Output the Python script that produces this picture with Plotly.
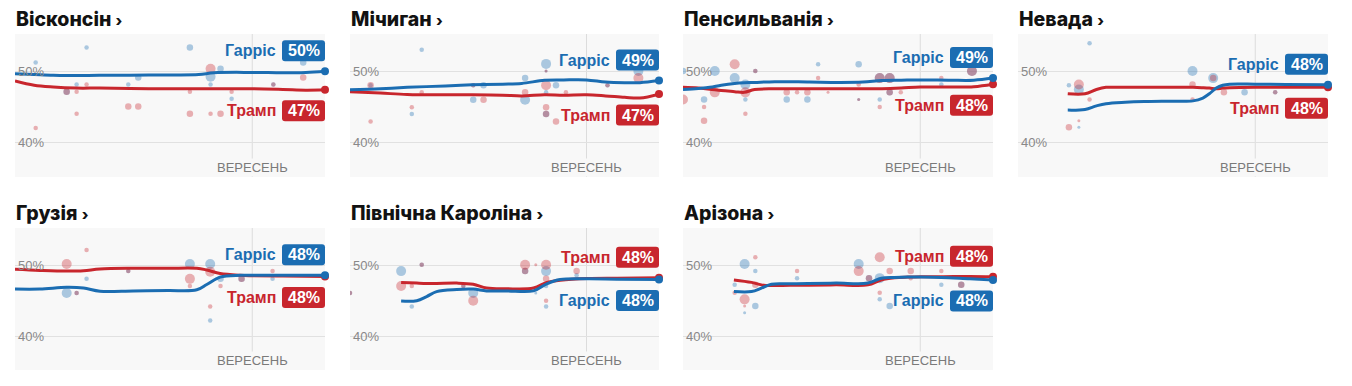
import pandas as pd
import plotly.graph_objects as go

# ---------------- data ----------------
STATES = ["Вісконсін", "Мічиган", "Пенсильванія", "Невада",
          "Грузія", "Північна Кароліна", "Арізона"]
HARRIS_NAME = "Гарріс"
TRUMP_NAME = "Трамп"
HARRIS_PCT = [50, 49, 49, 48, 48, 48, 48]
TRUMP_PCT = [47, 47, 48, 48, 48, 48, 48]
MONTH_LABEL = "ВЕРЕСЕНЬ"
Y_TICKS = [40, 50]
Y_TICK_TEXT = ["40%", "50%"]

# days since 1 July 2024
WI_DAYS = [0, 5, 10, 16, 22, 30, 40, 48, 52, 62, 70, 76, 81]
WI_HARRIS = [49.7, 49.6, 49.5, 49.45, 49.5, 49.5, 49.55, 49.6, 49.85, 49.9, 49.85, 49.9, 50.05]
WI_TRUMP = [48.7, 48.1, 47.85, 47.7, 47.7, 47.65, 47.6, 47.6, 47.6, 47.6, 47.5, 47.4, 47.45]

MI_DAYS = [0, 8, 15, 25, 32, 40, 45, 51, 56, 62, 67, 72, 76, 81]
MI_HARRIS = [47.45, 47.6, 47.8, 48.0, 48.15, 48.25, 48.35, 48.8, 48.85, 48.85, 48.55, 48.45, 48.45, 48.75]
MI_TRUMP = [47.2, 47.0, 46.8, 46.75, 46.75, 46.7, 46.6, 46.75, 46.7, 46.75, 46.6, 46.4, 46.3, 46.85]

PA_DAYS = [0, 4, 7, 10, 13.5, 16, 18.7, 24, 33, 41, 47, 52, 57, 62, 70, 76, 81]
PA_HARRIS = [47.5, 47.65, 47.8, 48.1, 48.35, 48.45, 48.5, 48.6, 48.55, 48.5, 48.55, 48.75, 48.8, 48.85, 48.8, 48.8, 49.1]
PA_TRUMP = [47.8, 47.7, 47.55, 47.35, 47.2, 47.1, 47.5, 47.6, 47.6, 47.6, 47.6, 47.6, 47.7, 47.85, 47.85, 47.9, 48.25]

NV_DAYS = [13, 17.5, 20.5, 23, 28, 33, 40, 45.7, 48.3, 50, 51.8, 53.5, 55.3, 62, 70, 81]
NV_HARRIS = [44.6, 44.7, 45.2, 45.5, 45.7, 45.8, 45.85, 45.9, 46.3, 46.9, 47.7, 48.1, 48.25, 48.25, 48.2, 48.15]
NV_TRUMP = [46.9, 46.9, 47.5, 47.8, 47.8, 47.8, 47.8, 47.8, 47.75, 47.7, 47.6, 47.7, 47.75, 47.8, 47.8, 47.8]

GA_DAYS = [0, 6.5, 13.5, 17.9, 22.2, 30.9, 40, 47.5, 50.1, 53.6, 58.8, 62, 70, 81]
GA_HARRIS = [46.65, 46.65, 46.9, 46.8, 46.35, 46.4, 46.45, 46.55, 47.3, 48.35, 48.6, 48.6, 48.6, 48.6]
GA_TRUMP = [49.45, 49.3, 49.2, 49.25, 49.5, 49.6, 49.6, 49.6, 49.35, 48.85, 48.6, 48.55, 48.5, 48.45]

NC_DAYS = [13.4, 17.5, 20.1, 22.7, 28, 32.3, 35.8, 41, 48.1, 51.6, 55.1, 62.2, 70, 81]
NC_HARRIS = [44.95, 45.0, 45.6, 46.3, 46.6, 46.65, 46.4, 46.4, 46.4, 47.4, 48.0, 48.1, 48.05, 48.0]
NC_TRUMP = [47.6, 47.5, 47.45, 47.45, 47.5, 47.35, 46.8, 46.7, 46.8, 47.6, 47.9, 48.15, 48.2, 48.25]

AZ_DAYS = [13.3, 17.9, 20.5, 23.1, 28, 32.7, 40, 48.3, 51.8, 55.3, 58.8, 62.3, 67.5, 75, 81]
AZ_HARRIS = [46.3, 46.3, 46.8, 47.35, 47.4, 47.45, 47.5, 47.5, 48.2, 48.3, 48.35, 48.35, 48.3, 48.1, 47.95]
AZ_TRUMP = [47.95, 47.6, 47.25, 47.15, 47.2, 47.2, 47.25, 47.25, 47.95, 48.25, 48.35, 48.4, 48.4, 48.45, 48.4]

# individual polls: (day, value, sample-size class 1..4)
WI_H_POLLS = [(5.4, 51.3, 2), (18.7, 53.4, 2), (16.1, 48.2, 2), (29.6, 48.2, 2), (32.2, 49.2, 3),
              (45.7, 53.4, 3), (51.1, 49.3, 4), (51.1, 48.2, 2), (53.7, 50.4, 3), (56.6, 46.2, 2),
              (75.3, 51.3, 3), (13.5, 47.2, 3), (67.5, 48.2, 2)]
WI_T_POLLS = [(5.4, 42.1, 2), (13.5, 47.2, 3), (16.1, 47.2, 2), (16.1, 44.1, 2), (18.7, 48.2, 2),
              (29.6, 45.1, 3), (32.2, 45.1, 3), (45.7, 47.2, 2), (45.7, 44.1, 3), (51.1, 50.4, 4),
              (51.1, 44.1, 2), (53.7, 44.1, 3), (56.6, 47.2, 2), (67.5, 48.2, 2), (75.3, 49.2, 3)]

MI_H_POLLS = [(18.8, 53.1, 2), (16.2, 44.05, 2), (32.3, 48.1, 2), (35, 48.1, 3), (32.3, 46.05, 3),
              (45.9, 49.1, 3), (45.9, 46.05, 4), (51.4, 51.1, 4), (51.4, 47.1, 2), (51.4, 44.05, 3),
              (54, 48.1, 3), (75.6, 50.1, 4), (5.4, 48.1, 2), (67.5, 48.1, 2), (51.4, 50.1, 1)]
MI_T_POLLS = [(5.4, 48.1, 3), (5.4, 43.0, 2), (16.2, 45.0, 2), (18.8, 47.1, 2), (35, 46.05, 3),
              (32.3, 48.1, 2), (45.9, 47.1, 3), (51.4, 48.1, 4), (51.4, 45.0, 3), (51.4, 44.05, 3),
              (54, 43.0, 3), (56.6, 47.1, 2), (67.5, 48.1, 2), (75.6, 49.1, 4), (51.4, 50.1, 1)]

PA_H_POLLS = [(0, 50.1, 3), (5.5, 46.1, 3), (8.3, 50.1, 4), (13.5, 49.1, 4), (16.3, 46.1, 2),
              (16.3, 48.2, 4), (27.1, 46.1, 3), (32.5, 46.1, 3), (35.3, 51.05, 2), (45.9, 51.05, 3),
              (51.4, 46.1, 2), (51.4, 49.1, 4), (54, 49.1, 4), (54, 47.1, 3), (67.5, 48.2, 2),
              (75.5, 50.1, 4), (18.9, 50.1, 2), (45.9, 46.1, 1)]
PA_T_POLLS = [(0, 46.1, 4), (5.5, 45.05, 2), (5.5, 43.1, 3), (8.3, 47.1, 4), (13.5, 51.05, 4),
              (16.3, 44.1, 2), (16.3, 47.1, 4), (18.9, 50.1, 2), (27.1, 47.1, 3), (29.8, 47.1, 2),
              (32.5, 47.1, 3), (35.3, 49.1, 2), (37.9, 47.1, 1), (45.9, 48.2, 2), (45.9, 46.1, 1),
              (51.4, 49.1, 4), (51.4, 45.05, 2), (54, 49.1, 4), (54, 47.1, 3), (56.9, 47.1, 2),
              (67.5, 49.1, 2), (75.5, 50.1, 4)]

NV_H_POLLS = [(13.3, 48.1, 2), (15.9, 47.5, 4), (15.9, 42.2, 1), (18.7, 54.0, 2), (45.6, 50.1, 4),
              (51, 49.1, 4), (59.2, 47.1, 3), (67.2, 47.1, 2)]
NV_T_POLLS = [(13.3, 42.2, 3), (15.9, 48.2, 4), (15.9, 43.1, 1), (18.7, 46.1, 2), (45.6, 48.2, 3),
              (45.6, 46.1, 2), (51, 49.1, 3), (53.8, 47.1, 3), (67.2, 47.1, 2)]

GA_H_POLLS = [(13.5, 46.1, 4), (16.1, 46.1, 2), (18.7, 48.1, 2), (29.6, 49.2, 2), (45.7, 50.2, 4),
              (51, 50.2, 4), (51, 42.2, 2), (53.7, 48.1, 3), (59.2, 48.1, 3), (67.3, 48.1, 2)]
GA_T_POLLS = [(13.5, 50.2, 4), (16.1, 46.1, 2), (18.7, 52.2, 2), (29.6, 49.2, 2), (45.7, 48.1, 4),
              (45.7, 47.1, 2), (51, 49.1, 4), (51, 44.2, 2), (53.7, 47.1, 2), (59.2, 48.1, 3),
              (67.3, 49.2, 2)]

NC_H_POLLS = [(0, 46.1, 2), (13.4, 49.2, 4), (16.2, 44.2, 2), (18.8, 50.1, 2), (29.7, 47.1, 2),
              (32.3, 46.1, 4), (45.9, 49.2, 3), (48.7, 46.1, 1), (51.4, 49.2, 4), (51.4, 47.1, 2),
              (51.4, 44.2, 2), (59.4, 48.6, 2)]
NC_T_POLLS = [(0, 46.1, 2), (13.4, 47.1, 4), (16.2, 47.1, 2), (18.8, 50.1, 2), (29.7, 47.1, 2),
              (32.3, 45.0, 4), (45.9, 50.1, 4), (45.9, 49.2, 3), (48.7, 50.1, 1), (51.4, 50.1, 4),
              (51.4, 48.1, 3), (51.4, 45.0, 2), (59.4, 49.2, 3)]

AZ_H_POLLS = [(13.5, 47.25, 2), (16.1, 50.2, 4), (18.9, 49.2, 2), (18.9, 44.25, 3), (16.1, 43.3, 1),
              (29.8, 48.2, 2), (45.9, 50.2, 4), (51.4, 48.2, 4), (51.4, 45.2, 2), (54, 44.25, 3),
              (67.5, 47.25, 2), (72.7, 47.25, 3), (48.6, 48.2, 3)]
AZ_T_POLLS = [(13.5, 46.15, 2), (16.1, 45.2, 4), (16.1, 44.25, 1), (18.9, 51.15, 2), (18.9, 47.25, 3),
              (29.8, 49.2, 2), (45.9, 49.2, 4), (48.6, 48.2, 3), (51.4, 51.15, 4), (51.4, 46.15, 2),
              (54, 49.2, 3), (59.5, 49.2, 3), (59.5, 48.2, 2), (67.5, 49.2, 2), (72.7, 47.25, 3)]

LINE_DAYS = [WI_DAYS, MI_DAYS, PA_DAYS, NV_DAYS, GA_DAYS, NC_DAYS, AZ_DAYS]
HARRIS_LINES = [WI_HARRIS, MI_HARRIS, PA_HARRIS, NV_HARRIS, GA_HARRIS, NC_HARRIS, AZ_HARRIS]
TRUMP_LINES = [WI_TRUMP, MI_TRUMP, PA_TRUMP, NV_TRUMP, GA_TRUMP, NC_TRUMP, AZ_TRUMP]
HARRIS_POLLS = [WI_H_POLLS, MI_H_POLLS, PA_H_POLLS, NV_H_POLLS, GA_H_POLLS, NC_H_POLLS, AZ_H_POLLS]
TRUMP_POLLS = [WI_T_POLLS, MI_T_POLLS, PA_T_POLLS, NV_T_POLLS, GA_T_POLLS, NC_T_POLLS, AZ_T_POLLS]

START = pd.Timestamp("2024-07-01")
END = pd.Timestamp("2024-09-20")
SEPT = pd.Timestamp("2024-09-01")

# ---------------- style / layout ----------------
W, H = 1352, 386
BLUE = "#1b6db2"
RED = "#c8262d"
BLUE_DOT = "rgba(27,109,178,0.5)"
RED_DOT = "rgba(200,38,45,0.5)"
PLOT_BG = "#f8f8f8"
GRID = "#e1e1e1"
SIZE_PX = {1: 3, 2: 4.5, 3: 6.5, 4: 10}
COLS = [(15, 325), (350, 659), (683, 993), (1018, 1328)]
ROWS = [(34, 177), (228, 370)]
TITLE_Y = [19, 213]
LABEL_FONT = "Liberation Sans, Arial, sans-serif"
TITLE_FONT = "Inter, Liberation Sans, sans-serif"


def to_dates(days):
    return [START + pd.Timedelta(days=float(d)) for d in days]


fig = go.Figure()
annotations = []
shapes = []
layout_axes = {}

for i, name in enumerate(STATES):
    n = i + 1
    row, col = (0, i) if i < 4 else (1, i - 4)
    x0, x1 = COLS[col]
    y0, y1 = ROWS[row]
    xs = "" if n == 1 else str(n)
    xref, yref = "x" + xs, "y" + xs

    layout_axes["xaxis" + xs] = dict(
        domain=[x0 / W, x1 / W], anchor=yref, type="date",
        range=[START, END], showgrid=False, zeroline=False,
        showticklabels=False, showline=False, ticks="", fixedrange=True)
    layout_axes["yaxis" + xs] = dict(
        domain=[1 - y1 / H, 1 - y0 / H], anchor=xref,
        range=[35.2, 55.3], tickvals=Y_TICKS, ticktext=Y_TICK_TEXT,
        ticklabelposition="inside", ticks="", showgrid=True,
        gridcolor=GRID, gridwidth=1, zeroline=False, showline=False,
        tickfont=dict(family=LABEL_FONT, size=13, color="#888888"),
        fixedrange=True)

    # September line and label
    shapes.append(dict(type="line", xref=xref, yref=yref + " domain",
                       x0=SEPT, x1=SEPT, y0=0, y1=1,
                       line=dict(color="#dcdcdc", width=1), layer="below"))
    annotations.append(dict(xref=xref, yref=yref + " domain", x=SEPT, y=0,
                            xanchor="center", yanchor="bottom", yshift=0,
                            text=MONTH_LABEL, showarrow=False,
                            bgcolor=PLOT_BG, borderpad=1,
                            font=dict(family=LABEL_FONT, size=13, color="#7a7a7a")))

    # title
    annotations.append(dict(xref="paper", yref="paper", x=(x0 - 1) / W,
                            y=1 - TITLE_Y[row] / H, xanchor="left", yanchor="middle",
                            showarrow=False,
                            text=f"{name} <span style='font-size:15px'>›</span>",
                            font=dict(family=TITLE_FONT, size=19.5, color="#121212",
                                      weight=800)))

    # poll dots
    for polls, col_dot in ((HARRIS_POLLS[i], BLUE_DOT), (TRUMP_POLLS[i], RED_DOT)):
        fig.add_trace(go.Scatter(
            x=to_dates([p[0] for p in polls]), y=[p[1] for p in polls],
            mode="markers", xaxis=xref, yaxis=yref, hoverinfo="skip",
            marker=dict(color=col_dot, size=[SIZE_PX[p[2]] for p in polls],
                        line=dict(width=0))))

    # trend lines
    days = LINE_DAYS[i]
    for vals, c in ((TRUMP_LINES[i], RED), (HARRIS_LINES[i], BLUE)):
        fig.add_trace(go.Scatter(
            x=to_dates(days), y=vals, mode="lines", xaxis=xref, yaxis=yref,
            hoverinfo="skip", line=dict(color=c, width=3, shape="spline", smoothing=1.0)))
        fig.add_trace(go.Scatter(
            x=to_dates([days[-1]]), y=[vals[-1]], mode="markers", xaxis=xref, yaxis=yref,
            hoverinfo="skip", cliponaxis=False,
            marker=dict(color=c, size=8, line=dict(width=0))))

    # end labels
    h_end, t_end = HARRIS_LINES[i][-1], TRUMP_LINES[i][-1]
    harris_top = h_end >= t_end
    entries = [(HARRIS_NAME, HARRIS_PCT[i], h_end, BLUE, 20.5 if harris_top else -21),
               (TRUMP_NAME, TRUMP_PCT[i], t_end, RED, -21 if harris_top else 20.5)]
    for label, pct, yv, c, shift in entries:
        bw, bh, r = 43, 21, 3
        L, R = -bw, 0
        B, T = shift - bh / 2, shift + bh / 2
        path = (f"M{L + r},{B} L{R - r},{B} Q{R},{B} {R},{B + r} L{R},{T - r} "
                f"Q{R},{T} {R - r},{T} L{L + r},{T} Q{L},{T} {L},{T - r} "
                f"L{L},{B + r} Q{L},{B} {L + r},{B} Z")
        shapes.append(dict(type="path", xref=xref + " domain", yref=yref,
                           xsizemode="pixel", ysizemode="pixel",
                           xanchor=1, yanchor=yv, path=path,
                           fillcolor=c, line=dict(width=0), layer="above"))
        annotations.append(dict(xref=xref + " domain", yref=yref, x=1, y=yv,
                                xanchor="center", yanchor="middle",
                                xshift=-bw / 2, yshift=shift, showarrow=False,
                                text=f"<b>{pct}%</b>",
                                font=dict(family=LABEL_FONT, size=16, color="white")))
        annotations.append(dict(xref=xref + " domain", yref=yref, x=1, y=yv,
                                xanchor="right", yanchor="middle",
                                xshift=-bw - 4, yshift=shift, showarrow=False,
                                text=f"<b>{label}</b>",
                                font=dict(family=LABEL_FONT, size=16, color=c)))

fig.update_layout(
    width=W, height=H, margin=dict(l=0, r=0, t=0, b=0),
    paper_bgcolor="white", plot_bgcolor=PLOT_BG,
    showlegend=False, hovermode=False,
    annotations=annotations, shapes=shapes, **layout_axes)

fig.write_html("out.html", config={"displayModeBar": False},
               post_script="document.body.style.margin='0px';")
